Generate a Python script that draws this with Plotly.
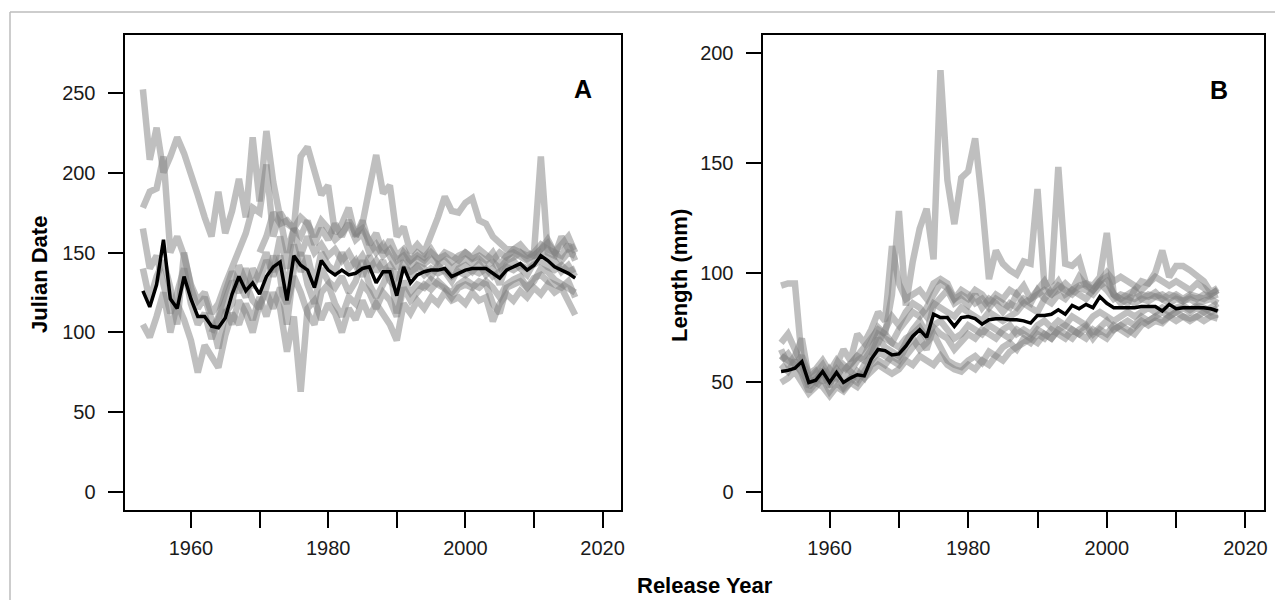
import plotly.graph_objects as go

W, H = 1275, 600

years = list(range(1953, 2017))

# ---- Panel A: Julian date of release, per hatchery (gray) and overall mean (black)
julian_mean = [126, 116, 130, 158, 121, 115, 135, 121, 110, 110, 104, 103, 109, 124, 135, 126,
               131, 124, 135, 141, 144, 120, 148, 142, 139, 128, 145, 139, 136, 139, 136, 137,
               140, 141, 131, 138, 138, 123, 141, 131, 136, 138, 139, 139, 140, 135, 137, 139,
               140, 140, 140, 137, 134, 139, 141, 143, 139, 142, 148, 145, 141, 139, 137, 134]

julian_sites = [
    [252, 208, 228, 200, 210, 222, 212, 200, 186, 172, 160, 188, 162, 176, 196, 172,
     222, 182, 226, 194, 170, 150, 165, 148, 160, 150, 155, 148, 152, 145, 150, 142,
     148, 140, 145, 138, 142, 135, 140, 138, 141, 136, 140, 137, 139, 135, 138, 136,
     139, 137, 140, 135, 138, 141, 139, 142, 140, 143, 145, 141, 139, 142, 138, 140],
    [178, 188, 190, 210, 150, 160, 148, 130, 120, 125, 112, 118, 130, 140, 150, 162,
     178, 175, 205, 160, 175, 168, 165, 210, 216, 200, 186, 192, 162, 168, 178, 160,
     170, 155, 162, 150, 158, 148, 152, 145, 150, 147, 152, 145, 150, 148, 145, 150,
     147, 152, 148, 145, 150, 147, 152, 155, 150, 148, 152, 158, 150, 155, 160, 150],
    [None] * 31 +
    [160, 168, 190, 211, 187, 192, 160, 166, 150, 155, 150, 160, 172, 185, 176, 175,
     181, 184, 170, 168, 160, 156, 152, 152, 150, 148, 150, 210, 150, 148, 160, 152, 154],
    [105, 97, 110, 125, 100, 118, 108, 95, 75, 92, 85, 78, 98, 112, 105, 118,
     108, 122, 110, 125, 115, 88, 110, 63, 115, 120, 108, 118, 112, 100, 115, 108,
     120, 110, 118, 112, 105, 95, 118, 112, 120, 115, 122, 118, 125, 120, 122, 118,
     125, 120, 122, 107, 118, 124, 120, 126, 122, 128, 124, 130, 125, 128, 120, 111],
    [165, 140, 148, 130, 112, 125, 140, 118, 105, 112, 96, 108, 120, 132, 125, 140,
     128, 138, 150, 135, 148, 125, 155, 138, 148, 130, 150, 142, 138, 150, 140, 145,
     135, 148, 138, 145, 132, 128, 145, 135, 142, 140, 135, 142, 138, 132, 140, 142,
     138, 143, 136, 140, 130, 142, 145, 140, 136, 144, 150, 147, 145, 138, 142, 135],
    [140, 120, 135, 145, 128, 105, 150, 128, 115, 122, 108, 90, 112, 118, 142, 130,
     120, 115, 128, 148, 135, 105, 140, 150, 130, 118, 140, 132, 128, 135, 125, 132,
     145, 130, 122, 130, 140, 112, 132, 125, 130, 128, 133, 130, 128, 125, 130, 133,
     130, 128, 132, 128, 122, 130, 133, 135, 128, 132, 140, 138, 133, 130, 128, 125],
    [None] * 10 +
    [100, 110, 125, 138, 130, 122, 140, 132, 145, 138, 160, 140, 165, 160, 170, 155,
     165, 158, 168, 160, 170, 162, 165, 158, 150, 155, 148, 140, 150, 145, 148, 145,
     150, 146, 148, 144, 148, 150, 146, 148, 145, 150, 142, 148, 150, 147, 145, 150,
     155, 152, 150, 148, 155, 145],
    [None] * 12 +
    [115, 105, 120, 112, 100, 118, 125, 115, 128, 118, 135, 125, 112, 105, 125, 130,
     118, 110, 122, 118, 130, 125, 115, 125, 120, 110, 128, 120, 125, 130, 127, 132,
     128, 122, 128, 130, 128, 132, 130, 118, 112, 128, 130, 132, 128, 134, 136, 132,
     130, 128, 132, 122],
    [None] * 17 +
    [150, 160, 175, 168, 170, 165, 172, 168, 160, 170, 165, 158, 162, 168, 158, 162,
     150, 155, 148, 152, 145, 148, 142, 146, 143, 146, 142, 145, 140, 143, 146, 143,
     146, 142, 144, 140, 145, 147, 150, 146, 148, 152, 156, 150, 145, 150, 148],
]

# ---- Panel B: length at release (mm)
length_mean = [55, 55.5, 56.5, 59.5, 50, 51, 55, 50, 54.5, 50, 52, 53.5, 53, 60.5, 65, 64.5,
               62.5, 63, 66.5, 71, 74, 70.5, 81, 79.5, 79.5, 75.5, 79.5, 80, 79, 76.5, 78.5, 79,
               79, 78.5, 78.5, 78, 77, 80.5, 80.5, 81, 83, 81, 85, 83.5, 85.5, 84, 89, 86,
               84, 84, 84, 84, 84.5, 84.5, 84.5, 82.5, 85.5, 83.5, 84, 84, 84, 84, 83.5, 82.5]

length_sites = [
    [94, 95, 95, 60, 52, 55, 50, 56, 52, 58, 55, 60, 62, 68, 75, 72,
     90, 128, 85, 105, 120, 129, 106, 192, 142, 122, 143, 146, 161, 132, 97, 110,
     104, 101, 99, 105, 104, 138, 94, 96, 148, 104, 103, 106, 95, 94, 98, 118,
     90, 88, 86, 92, 96, 95, 100, 110, 98, 103, 103, 101, 98, 96, 91, 93],
    [68, 72, 65, 58, 48, 52, 55, 48, 58, 65, 60, 72, 68, 74, 82, 78,
     112, 95, 88, 90, 92, 88, 95, 97, 95, 88, 92, 90, 86, 88, 84, 88,
     86, 84, 90, 86, 84, 82, 88, 92, 96, 90, 92, 94, 95, 92, 96, 98,
     90, 86, 88, 86, 88, 87, 89, 88, 86, 88, 87, 88, 86, 87, 88, 86],
    [50, 52, 55, 50, 45, 48, 52, 46, 50, 47, 50, 55, 52, 58, 60, 58,
     62, 60, 66, 70, 65, 68, 72, 66, 60, 58, 57, 60, 62, 59, 64, 62,
     66, 68, 65, 70, 68, 72, 70, 74, 72, 70, 74, 72, 75, 70, 74, 72,
     76, 74, 72, 75, 78, 76, 78, 77, 80, 78, 80, 79, 80, 78, 80, 79],
    [62, 60, 58, 55, 50, 54, 58, 52, 56, 52, 55, 52, 58, 62, 70, 66,
     64, 62, 68, 74, 78, 72, 85, 88, 92, 86, 88, 85, 90, 84, 88, 86,
     82, 86, 84, 88, 86, 92, 88, 86, 90, 88, 92, 90, 88, 92, 95, 92,
     88, 90, 89, 88, 90, 89, 91, 88, 90, 89, 87, 89, 88, 90, 89, 90],
    [65, 58, 62, 70, 52, 50, 56, 50, 54, 48, 52, 50, 55, 60, 64, 62,
     60, 58, 62, 66, 70, 65, 75, 72, 70, 65, 68, 72, 70, 74, 72, 70,
     74, 76, 72, 74, 72, 76, 78, 75, 78, 76, 80, 78, 76, 80, 82, 80,
     78, 80, 82, 80, 82, 84, 82, 84, 82, 84, 85, 83, 85, 84, 82, 84],
    [None] * 9 +
    [55, 58, 62, 60, 65, 72, 70, 68, 74, 78, 82, 80, 84, 90, 95, 93,
     88, 90, 88, 92, 90, 86, 90, 88, 92, 90, 94, 88, 90, 92, 90, 94,
     92, 90, 93, 92, 90, 94, 96, 90, 88, 90, 92, 88, 90, 89, 90, 88,
     90, 88, 90, 89, 88, 90, 92],
    [58, 55, 60, 54, 46, 50, 48, 44, 48, 46, 50, 48, 52, 55, 58, 56,
     54, 56, 60, 58, 62, 60, 58, 62, 58, 56, 55, 58, 56, 60, 58, 62,
     60, 64, 66, 68, 70, 68, 72, 70, 74, 72, 70, 74, 76, 72, 75, 78,
     74, 76, 74, 72, 76, 78, 80, 78, 80, 82, 80, 78, 80, 82, 80, 81],
    [None] * 13 +
    [62, 68, 75, 80, 76, 82, 86, 84, 80, 86, 84, 82, 80, 84, 82, 80,
     78, 82, 80, 78, 80, 82, 86, 88, 92, 96, 90, 92, 95, 92, 98, 94,
     92, 96, 100, 96, 98, 96, 94, 92, 95, 98, 96, 94, 96, 94, 92, 95,
     93, 90, 92],
    [60, 63, 58, 62, 54, 56, 60, 55, 60, 56, 58, 62, 65, 70, 74, 72,
     68, 66, 70, 72, 75, 70, 76, 78, 74, 70, 72, 76, 74, 72, 76, 74,
     72, 70, 74, 72, 70, 74, 72, 70, 74, 76, 74, 72, 70, 74, 72, 70,
     74, 76, 78, 76, 80, 78, 80, 82, 80, 82, 84, 82, 84, 82, 84, 86],
]

x_ticks = [1960, 1970, 1980, 1990, 2000, 2010, 2020]
x_ticktext = ["1960", "", "1980", "", "2000", "", "2020"]
julian_ticks = [0, 50, 100, 150, 200, 250]
length_ticks = [0, 50, 100, 150, 200]

FONT = "Liberation Sans, Arial, sans-serif"
GRAY = "rgb(128,128,128)"

fig = go.Figure()

for s in julian_sites:
    fig.add_trace(go.Scatter(x=years, y=s, mode="lines", xaxis="x", yaxis="y",
                             line=dict(color=GRAY, width=6.5), opacity=0.5,
                             connectgaps=False, hoverinfo="skip", showlegend=False))
fig.add_trace(go.Scatter(x=years, y=julian_mean, mode="lines", xaxis="x", yaxis="y",
                         line=dict(color="black", width=3.5), showlegend=False))

for s in length_sites:
    fig.add_trace(go.Scatter(x=years, y=s, mode="lines", xaxis="x2", yaxis="y2",
                             line=dict(color=GRAY, width=6.5), opacity=0.5,
                             connectgaps=False, hoverinfo="skip", showlegend=False))
fig.add_trace(go.Scatter(x=years, y=length_mean, mode="lines", xaxis="x2", yaxis="y2",
                         line=dict(color="black", width=3.5), showlegend=False))


def px_x(v):
    return v / W


def px_y(v):
    return 1 - v / H


tick_font = dict(family=FONT, size=20, color="#1a1a1a")

common_x = dict(range=[1950.32, 2022.68], tickmode="array", tickvals=x_ticks,
                ticktext=x_ticktext, ticks="outside", ticklen=16, tickwidth=2,
                tickcolor="black", showline=True, linecolor="black", linewidth=2,
                mirror=True, showgrid=False, zeroline=False, automargin=False,
                ticklabelstandoff=3, tickfont=tick_font)
common_y = dict(tickmode="array", ticks="outside", ticklen=15, tickwidth=2,
                tickcolor="black", showline=True, linecolor="black", linewidth=2,
                mirror=True, showgrid=False, zeroline=False, automargin=False,
                ticklabelstandoff=8, tickfont=tick_font,
                domain=[px_y(510), px_y(35)])

fig.update_layout(
    width=W, height=H,
    margin=dict(l=0, r=0, t=0, b=0),
    paper_bgcolor="white", plot_bgcolor="white",
    xaxis=dict(domain=[px_x(124.5), px_x(621)], anchor="y", **common_x),
    yaxis=dict(range=[-11, 286], tickvals=julian_ticks, anchor="x", **common_y),
    xaxis2=dict(domain=[px_x(762.5), px_x(1264)], anchor="y2", **common_x),
    yaxis2=dict(range=[-8, 208], tickvals=length_ticks, anchor="x2", **common_y),
)

bold = dict(family=FONT, size=22, color="black")
letter = dict(family=FONT, size=25, color="black")
annotations = [
    dict(text="<b>Julian Date</b>", x=px_x(40), y=px_y(275), textangle=-90, font=bold),
    dict(text="<b>Length (mm)</b>", x=px_x(679), y=px_y(276), textangle=-90, font=bold),
    dict(text="<b>Release Year</b>", x=px_x(705), y=px_y(585), font=bold),
    dict(text="<b>A</b>", x=px_x(583), y=px_y(89), font=letter),
    dict(text="<b>B</b>", x=px_x(1219), y=px_y(89.5), font=letter),
]
for a in annotations:
    a.update(xref="paper", yref="paper", showarrow=False, xanchor="center", yanchor="middle")
fig.update_layout(annotations=annotations)

# light page border along the top and left edges
fig.add_shape(type="line", xref="paper", yref="paper",
              x0=px_x(10), y0=px_y(12), x1=1, y1=px_y(12),
              line=dict(color="#bdbdbd", width=1.5))
fig.add_shape(type="line", xref="paper", yref="paper",
              x0=px_x(10), y0=px_y(12), x1=px_x(10), y1=0,
              line=dict(color="#bdbdbd", width=1.5))

fig.write_html("out.html")
